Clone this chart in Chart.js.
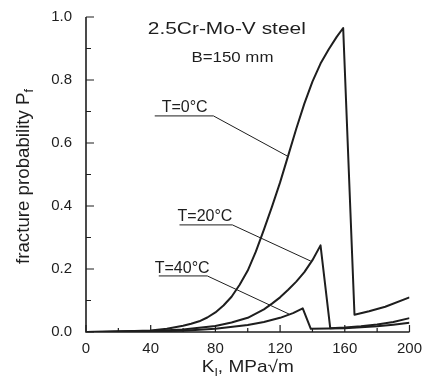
<!DOCTYPE html>
<html><head><meta charset="utf-8">
<script src="https://cdn.jsdelivr.net/npm/chart.js@4/dist/chart.umd.min.js"></script>
<style>html,body{margin:0;padding:0;background:#fff}#wrap{width:422px;height:388px}</style>
</head><body><div id="wrap"><canvas id="c" width="422" height="388"></canvas></div>
<script>
// ---- data ----
const xTickValues = [0, 40, 80, 120, 160, 200];
const yTickValues = [0.0, 0.2, 0.4, 0.6, 0.8, 1.0];
const seriesNames = ['T=0°C', 'T=20°C', 'T=40°C'];

const t0K = [0, 10, 20, 30, 40, 50, 60, 65, 70, 75, 80, 85, 90, 95, 100, 105, 110, 115, 120, 125, 130, 135, 140, 145, 150, 155, 159, 166, 175, 185, 200];
const t0P = [0, 0.001, 0.002, 0.003, 0.005, 0.01, 0.02, 0.026, 0.034, 0.046, 0.062, 0.084, 0.112, 0.15, 0.195, 0.255, 0.325, 0.398, 0.475, 0.56, 0.645, 0.725, 0.795, 0.852, 0.897, 0.937, 0.965, 0.055, 0.066, 0.08, 0.11];

const t20K = [0, 20, 40, 60, 80, 90, 100, 110, 115, 120, 125, 130, 135, 140, 145, 151, 160, 170, 180, 190, 200];
const t20P = [0, 0.001, 0.003, 0.008, 0.019, 0.03, 0.045, 0.072, 0.09, 0.11, 0.134, 0.16, 0.19, 0.228, 0.275, 0.012, 0.014, 0.018, 0.024, 0.032, 0.044];

const t40K = [0, 20, 40, 60, 80, 100, 110, 120, 128, 134, 139, 150, 160, 170, 180, 190, 200];
const t40P = [0, 0.001, 0.002, 0.004, 0.01, 0.022, 0.032, 0.045, 0.06, 0.075, 0.01, 0.011, 0.012, 0.015, 0.018, 0.023, 0.029];

const titleText = '2.5Cr-Mo-V steel';
const subTitleText = 'B=150 mm';

// ---- chart ----
const FONT = '"Liberation Sans", Arial, Helvetica, sans-serif';
const INK = '#1e1e1e';
const toPts = (ks, ps) => ks.map((k, i) => ({x: k, y: ps[i]}));

function drawRich(ctx, segs, x, y, align, targetW) {
  let w = 0;
  segs.forEach(s => { ctx.font = s.size + 'px ' + FONT; s.w = ctx.measureText(s.t).width; w += s.w; });
  const sx = targetW ? targetW / w : 1;
  ctx.save();
  ctx.translate(x, y);
  ctx.scale(sx, 1);
  ctx.textBaseline = 'alphabetic';
  ctx.textAlign = 'left';
  let cx = align === 'center' ? -w / 2 : 0;
  segs.forEach(s => { ctx.font = s.size + 'px ' + FONT; ctx.fillText(s.t, cx, s.dy || 0); cx += s.w; });
  ctx.restore();
}

const decor = {
  id: 'decor',
  afterDatasetsDraw(chart) {
    const ctx = chart.ctx, xs = chart.scales.x, ys = chart.scales.y, a = chart.chartArea;
    const X = v => xs.getPixelForValue(v), Y = v => ys.getPixelForValue(v);
    ctx.save();
    ctx.strokeStyle = INK; ctx.fillStyle = INK;
    // axes
    ctx.lineWidth = 1.6;
    ctx.beginPath();
    ctx.moveTo(a.left, a.top); ctx.lineTo(a.left, a.bottom); ctx.lineTo(a.right, a.bottom);
    ctx.stroke();
    // ticks (inward)
    ctx.lineWidth = 1.2;
    ctx.beginPath();
    for (let v = 0; v <= 200.001; v += 20) {
      const major = Math.abs(v % 40) < 1e-6;
      const px = X(v), len = major ? 7 : 4;
      ctx.moveTo(px, a.bottom); ctx.lineTo(px, a.bottom - len);
    }
    for (let i = 0; i <= 10; i++) {
      const v = i / 10, major = i % 2 === 0;
      const py = Y(v), len = major ? 8 : 5;
      ctx.moveTo(a.left, py); ctx.lineTo(a.left + len, py);
    }
    ctx.stroke();

    // series labels with underline + leader
    const labels = [
      {t: seriesNames[0], k: 46.8, p: 0.698, u0: 42.5, u1: 78.8, up: 0.686, ek: 124.3, ep: 0.559},
      {t: seriesNames[1], k: 56.6, p: 0.352, u0: 57.8, u1: 90.5, up: 0.340, ek: 139, ep: 0.225},
      {t: seriesNames[2], k: 42.5, p: 0.187, u0: 45, u1: 75, up: 0.178, ek: 125.5, ep: 0.057}
    ];
    ctx.lineWidth = 1;
    labels.forEach(l => {
      drawRich(ctx, [{t: l.t, size: 16}], X(l.k), Y(l.p), 'left');
      ctx.beginPath();
      ctx.moveTo(X(l.u0), Y(l.up)); ctx.lineTo(X(l.u1), Y(l.up)); ctx.lineTo(X(l.ek), Y(l.ep));
      ctx.stroke();
    });

    // title and subtitle
    drawRich(ctx, [{t: titleText, size: 17}], X(38.2), Y(0.946), 'left', 158);
    drawRich(ctx, [{t: subTitleText, size: 15}], X(65.2), Y(0.857), 'left', 82);

    // x axis title
    drawRich(ctx, [{t: 'K', size: 17}, {t: 'I', size: 11, dy: 4}, {t: ', MPa√m', size: 17}],
      (a.left + a.right) / 2, 372, 'center', 92);
    // y axis title
    ctx.save();
    ctx.translate(29, (a.top + a.bottom) / 2 + 2);
    ctx.rotate(-Math.PI / 2);
    drawRich(ctx, [{t: 'fracture probability P', size: 18}, {t: 'f', size: 12, dy: 4}], 0, 0, 'center', 175);
    ctx.restore();
    ctx.restore();
  }
};

const lineStyle = {borderColor: INK, borderWidth: 2, pointRadius: 0, fill: false, tension: 0, borderJoinStyle: 'round'};

new Chart(document.getElementById('c'), {
  type: 'line',
  data: {
    datasets: [
      Object.assign({label: seriesNames[0], data: toPts(t0K, t0P)}, lineStyle),
      Object.assign({label: seriesNames[1], data: toPts(t20K, t20P)}, lineStyle),
      Object.assign({label: seriesNames[2], data: toPts(t40K, t40P)}, lineStyle)
    ]
  },
  options: {
    responsive: false,
    animation: false,
    devicePixelRatio: 1,
    layout: {padding: {left: 0, right: 11, top: 17, bottom: 0}},
    plugins: {legend: {display: false}, tooltip: {enabled: false}, title: {display: false}},
    scales: {
      x: {
        type: 'linear', min: 0, max: 200,
        afterBuildTicks: s => { s.ticks = xTickValues.map(v => ({value: v})); },
        ticks: {font: {family: FONT, size: 15}, color: INK, padding: 0, maxRotation: 0},
        grid: {display: false, drawTicks: true, tickLength: 8},
        border: {display: false},
        afterFit: s => { s.height = 56; }
      },
      y: {
        type: 'linear', min: 0, max: 1,
        afterBuildTicks: s => { s.ticks = yTickValues.map(v => ({value: v})); },
        ticks: {font: {family: FONT, size: 15}, color: INK, padding: 0, callback: v => Number(v).toFixed(1)},
        grid: {display: false, drawTicks: true, tickLength: 14},
        border: {display: false},
        afterFit: s => { s.width = 86; }
      }
    }
  },
  plugins: [decor]
});
</script>
</body></html>
